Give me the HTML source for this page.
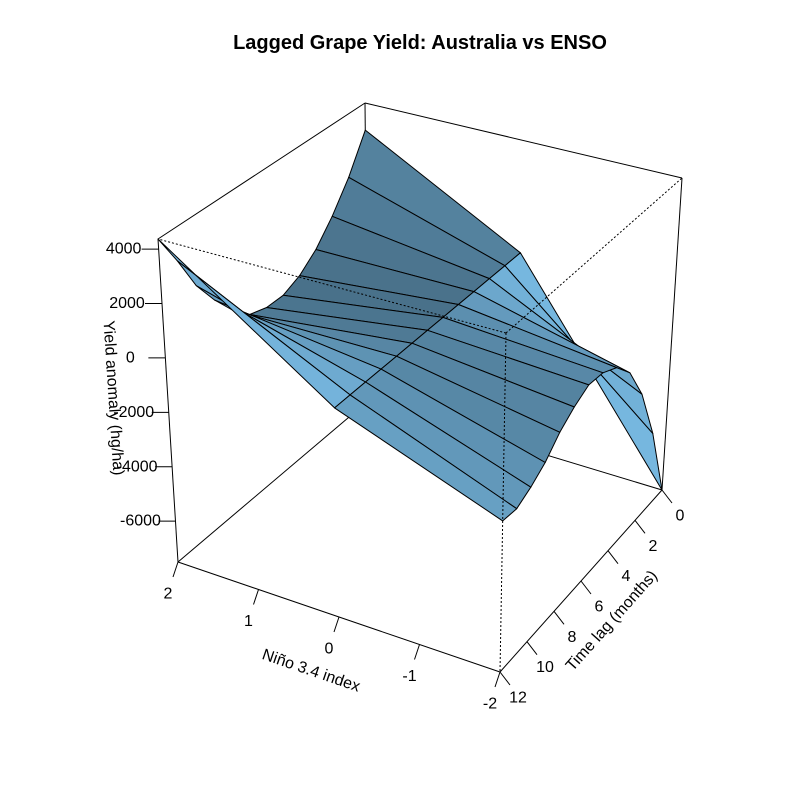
<!DOCTYPE html>
<html><head><meta charset="utf-8"><style>
html,body{margin:0;padding:0;background:#fff;}
svg{display:block;font-family:"Liberation Sans",sans-serif;}
</style></head><body>
<svg id="chart" width="800" height="800" viewBox="0 0 800 800">
<text x="420" y="49" text-anchor="middle" font-size="20" font-weight="bold">Lagged Grape Yield: Australia vs ENSO</text>
</svg>
<script>
const ninoLevels = [2, 0, -2];
const lagValues = [0,1,2,3,4,5,6,7,8,9,10,11,12];
const yieldNino2 = [3290,1880,810,-20,-560,-850,-850,-650,-20,810,1790,3150,4370];
const yieldNino0 = [0,0,0,0,0,0,0,0,0,0,0,0,0];
const yieldNinoM2 = [-7500,-4790,-2770,-1440,-730,-410,-350,-650,-1060,-1640,-2020,-2280,-2210];
const zTicks = [4000,2000,0,-2000,-4000,-6000];
const ninoTicks = [2,1,0,-1,-2];
const lagTicks = [0,2,4,6,8,10,12];

const NS="http://www.w3.org/2000/svg";
const svg=document.getElementById('chart');
const series=[yieldNino2,yieldNino0,yieldNinoM2];
let allZ=[].concat(yieldNino2,yieldNino0,yieldNinoM2);
const zmin=Math.min(...allZ), zmax=Math.max(...allZ);
const nMin=-2,nMax=2,lMin=0,lMax=12;
const C=[[[[368,401],[365,103]],[[178,562],[158,239]]],[[[662,490],[682,178]],[[500,672],[506,333]]]];
function proj(n,l,z){
  const u=(nMax-n)/(nMax-nMin), v=(l-lMin)/(lMax-lMin), w=(z-zmin)/(zmax-zmin);
  let x=0,y=0;
  for(let a=0;a<2;a++)for(let b=0;b<2;b++)for(let c=0;c<2;c++){
    const f=(a?u:1-u)*(b?v:1-v)*(c?w:1-w);
    x+=f*C[a][b][c][0]; y+=f*C[a][b][c][1];
  }
  return [x,y];
}
function mk(tag,attrs,parent){const e=document.createElementNS(NS,tag);for(const k in attrs)e.setAttribute(k,attrs[k]);(parent||svg).appendChild(e);return e;}
function line(p,q,dotted,name){
  const e=mk('line',{x1:p[0],y1:p[1],x2:q[0],y2:q[1],stroke:'#000','stroke-width':1,'stroke-dasharray':dotted?'2,2':'none'});
  
  
}
const B=(n,l)=>proj(n,l,zmin), T=(n,l)=>proj(n,l,zmax);
line(B(2,12),B(-2,12),false,'box-edge');
line(B(-2,12),B(-2,0),false,'box-edge');
line(B(-2,0),B(2,0),false,'box-edge');
line(B(2,0),B(2,12),false,'box-edge');
line(B(2,12),T(2,12),false,'box-edge');
line(B(2,0),T(2,0),false,'box-edge');
line(B(-2,0),T(-2,0),false,'box-edge');
line(T(2,12),T(2,0),false,'box-edge');
line(T(2,0),T(-2,0),false,'box-edge');
const facets=[];
for(let i=0;i<ninoLevels.length-1;i++){
  for(let j=0;j<lagValues.length-1;j++){
    const pts=[[i,j],[i+1,j],[i+1,j+1],[i,j+1]].map(([a,b])=>[ninoLevels[a],lagValues[b],series[a][b]]);
    const u=((nMax-ninoLevels[i])+(nMax-ninoLevels[i+1]))/2/(nMax-nMin);
    const v=(lagValues[j]+lagValues[j+1])/2/(lMax-lMin);
    facets.push({pts,depth:u+v});
  }
}
facets.sort((a,b)=>a.depth-b.depth);
const zr=zmax-zmin;
const L=[-0.7,-0.3,0.3];
facets.forEach(f=>{
  const P=f.pts.map(p=>[p[0]/4,p[1]/12,(p[2]-zmin)/zr]);
  const d1=[P[2][0]-P[0][0],P[2][1]-P[0][1],P[2][2]-P[0][2]];
  const d2=[P[3][0]-P[1][0],P[3][1]-P[1][1],P[3][2]-P[1][2]];
  let N=[d1[1]*d2[2]-d1[2]*d2[1],d1[2]*d2[0]-d1[0]*d2[2],d1[0]*d2[1]-d1[1]*d2[0]];
  if(N[2]<0)N=N.map(x=>-x);
  const len=Math.hypot(...N);N=N.map(x=>x/len);
  const dot=N[0]*L[0]+N[1]*L[1]+N[2]*L[2];
  const k=Math.max(0.5,Math.min(1.03,1+0.7*(dot-0.7)));
  const col=`rgb(${Math.round(116*k)},${Math.round(180*k)},${Math.round(220*k)})`;
  const s=f.pts.map(p=>proj(p[0],p[1],p[2]).map(v=>v.toFixed(1)).join(',')).join(' ');
  const e=mk('polygon',{points:s,fill:col,stroke:'#000','stroke-width':1,'stroke-linejoin':'round'});
  
  
});
line(T(-2,12),T(2,12),true,'box-edge-hidden');
line(T(-2,12),T(-2,0),true,'box-edge-hidden');
line(T(-2,12),B(-2,12),true,'box-edge-hidden');
function text(x,y,str,opts,name){
  const e=mk('text',Object.assign({x:x,y:y,'text-anchor':'middle','dominant-baseline':'central','font-size':16},opts||{}));
  e.textContent=str;
  
  
  return e;
}
zTicks.forEach(z=>{
  const p=proj(2,12,z);
  line([p[0]-17,p[1]],p,false,'z-tick');
  text(p[0]-35,p[1],String(z),{},'z-tick-label');
});
text(113,398,'Yield anomaly (hg/ha)',{transform:'rotate(86.3 113 398)'},'z-axis-title');
ninoTicks.forEach(n=>{
  const p=proj(n,12,zmin);
  line(p,[p[0]-5,p[1]+15],false,'nino-tick');
  text(p[0]-10,p[1]+32,String(n),{},'nino-tick-label');
});
text(311,671,'Niño 3.4 index',{transform:'rotate(18.9 311 671)'},'nino-axis-title');
lagTicks.forEach(l=>{
  const p=proj(-2,l,zmin);
  line(p,[p[0]+10,p[1]+13],false,'lag-tick');
  text(p[0]+18,p[1]+26,String(l),{},'lag-tick-label');
});
text(612,621,'Time lag (months)',{transform:'rotate(-48.3 612 621)'},'lag-axis-title');
</script>
</body></html>
